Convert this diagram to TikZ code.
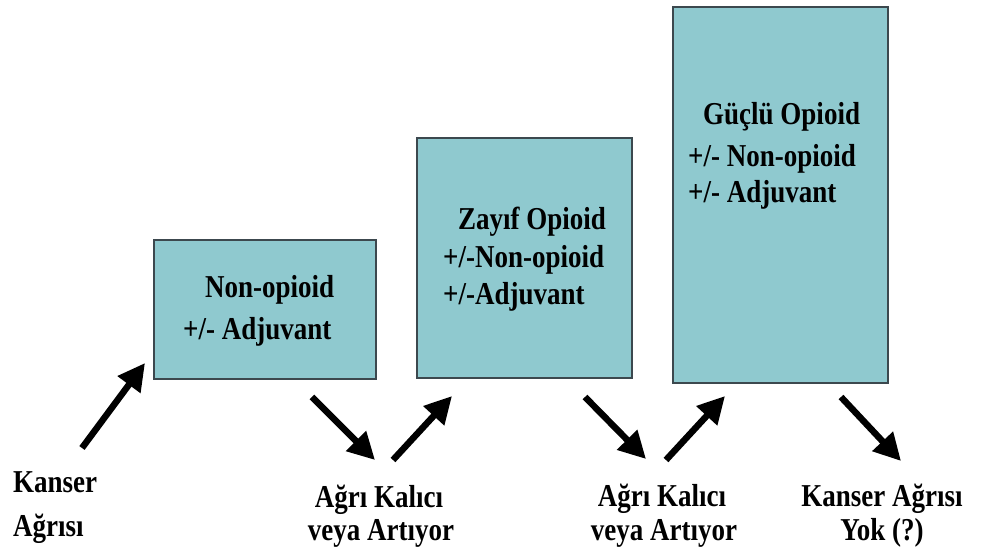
\documentclass[tikz,border=0pt]{standalone}
\usepackage{graphicx}
\usepackage{fontspec}
\setmainfont{Liberation Serif}
\usetikzlibrary{arrows.meta}
\definecolor{boxfill}{RGB}{143,201,207}
\definecolor{boxline}{RGB}{60,72,78}
\newcommand{\tallt}[1]{\scalebox{1}[1.18]{#1}}
\tikzset{
  stepbox/.style={draw=boxline, line width=1.8pt, fill=boxfill, inner sep=0pt},
  txt/.style={inner sep=0pt, font=\fontsize{27}{32}\selectfont\bfseries, text=black},
  bigarrow/.style={line width=6.5pt, -{Triangle[length=27pt,width=27pt]}, black}
}
\begin{document}
\begin{tikzpicture}[x=1pt,y=1pt]
\useasboundingbox (0,0) rectangle (997,554);
% boxes
\node[stepbox, minimum width=222pt, minimum height=139pt] (b1) at (265,244.5) {};
\node[stepbox, minimum width=215pt, minimum height=240pt] (b2) at (524.5,296) {};
\node[stepbox, minimum width=215pt, minimum height=376pt] (b3) at (780.5,359) {};
% box texts
\node[txt, anchor=base west] (b1a) at (205,256) {\tallt{Non-opioid}};
\node[txt, anchor=base west] (b1b) at (183,214) {\tallt{+/- Adjuvant}};
\node[txt, anchor=base west] (b2a) at (458,324) {\tallt{Zayıf Opioid}};
\node[txt, anchor=base west] (b2b) at (443,286) {\tallt{+/-Non-opioid}};
\node[txt, anchor=base west] (b2c) at (443,249) {\tallt{+/-Adjuvant}};
\node[txt, anchor=base west] (b3a) at (703,429) {\tallt{Güçlü Opioid}};
\node[txt, anchor=base west] (b3b) at (688,387) {\tallt{+/- Non-opioid}};
\node[txt, anchor=base west] (b3c) at (688,351) {\tallt{+/- Adjuvant}};
% bottom labels
\node[txt, anchor=base west] (l1a) at (13,61) {\tallt{Kanser}};
\node[txt, anchor=base west] (l1b) at (13,17) {\tallt{Ağrısı}};
\node[txt, anchor=base] (l2a) at (379,46) {\tallt{Ağrı Kalıcı}};
\node[txt, anchor=base] (l2b) at (381,13) {\tallt{veya Artıyor}};
\node[txt, anchor=base] (l3a) at (662,47) {\tallt{Ağrı Kalıcı}};
\node[txt, anchor=base] (l3b) at (664,13) {\tallt{veya Artıyor}};
\node[txt, anchor=base] (l4a) at (882,47) {\tallt{Kanser Ağrısı}};
\node[txt, anchor=base] (l4b) at (882,13) {\tallt{Yok (?)}};
% arrow ends
\coordinate (a1s) at (82,106);  \coordinate (a1e) at (145,191);
\coordinate (a2s) at (312,157); \coordinate (a2e) at (375,94);
\coordinate (a3s) at (393,94);  \coordinate (a3e) at (452,158);
\coordinate (a4s) at (585,157); \coordinate (a4e) at (646,95);
\coordinate (a5s) at (666,94);  \coordinate (a5e) at (725,158);
\coordinate (a6s) at (841,157); \coordinate (a6e) at (901,93);
\draw[bigarrow] (a1s) -- (a1e);
\draw[bigarrow] (a2s) -- (a2e);
\draw[bigarrow] (a3s) -- (a3e);
\draw[bigarrow] (a4s) -- (a4e);
\draw[bigarrow] (a5s) -- (a5e);
\draw[bigarrow] (a6s) -- (a6e);
\end{tikzpicture}
\end{document}
